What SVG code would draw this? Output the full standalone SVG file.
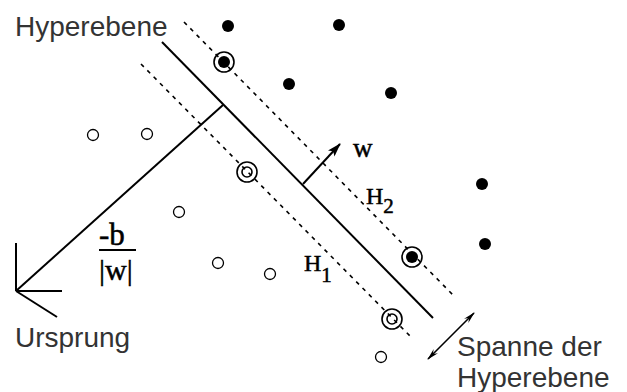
<svg xmlns="http://www.w3.org/2000/svg" width="627" height="392" viewBox="0 0 627 392">
<defs>
<style>
.lbl{font-family:"Liberation Sans",Arial,sans-serif;font-size:28px;fill:#333}
.math{font-family:"Liberation Serif","Times New Roman",serif;fill:#000;stroke:#000;stroke-width:0.5}
.solid{stroke:#000;stroke-width:2;fill:none}
.dash{stroke:#000;stroke-width:1.6;stroke-dasharray:4 5;fill:none}
.dot{fill:#000}
.open{fill:#fff;stroke:#000;stroke-width:1.3}
.ring{fill:none;stroke:#000;stroke-width:1.6}
</style>
<marker id="filled" viewBox="0 0 14 9" refX="13" refY="4.5" markerWidth="14" markerHeight="9" markerUnits="userSpaceOnUse" orient="auto">
<path d="M0,0 L14,4.5 L0,9 L3,4.5 Z" fill="#000"/>
</marker>
<marker id="thin" viewBox="0 0 12 8" refX="11" refY="4" markerWidth="12" markerHeight="8" markerUnits="userSpaceOnUse" orient="auto-start-reverse">
<path d="M0,1 L12,4 L0,7 L4,4 Z" fill="#000"/>
</marker>
</defs>
<rect width="627" height="392" fill="#fff"/>

<g id="connectors">
<line id="hyperplane" class="solid" x1="162" y1="42" x2="433" y2="318"/>
<line id="h2-line" class="dash" x1="184" y1="22" x2="454" y2="296"/>
<line id="h1-line" class="dash" x1="141" y1="64" x2="412" y2="338"/>
<line id="normal-to-origin" class="solid" x1="223" y1="105" x2="16" y2="291"/>
<line class="solid" x1="16" y1="291" x2="16" y2="243"/>
<line class="solid" x1="16" y1="291" x2="62" y2="291"/>
<line class="solid" x1="16" y1="291" x2="57" y2="317"/>
<line id="w-arrow" class="solid" x1="303" y1="184" x2="340" y2="144" marker-end="url(#filled)"/>
<line id="span-arrow" stroke="#000" stroke-width="1.6" x1="428" y1="359" x2="474" y2="313" marker-start="url(#thin)" marker-end="url(#thin)"/>
</g>

<g id="filled-points">
<circle class="dot" cx="228" cy="26" r="6"/>
<circle class="dot" cx="339" cy="25" r="6"/>
<circle class="dot" cx="289" cy="84" r="6"/>
<circle class="dot" cx="391" cy="93" r="6"/>
<circle class="dot" cx="482" cy="184" r="6"/>
<circle class="dot" cx="485" cy="244" r="6"/>
</g>
<g id="support-filled">
<circle class="dot" cx="224" cy="62" r="6"/><circle class="ring" cx="224" cy="62" r="10"/>
<circle class="dot" cx="412" cy="257" r="6"/><circle class="ring" cx="412" cy="257" r="10"/>
</g>
<g id="open-points">
<circle class="open" cx="93" cy="135" r="5.5"/>
<circle class="open" cx="147" cy="134" r="5.5"/>
<circle class="open" cx="179" cy="212" r="5.5"/>
<circle class="open" cx="218" cy="263" r="5.5"/>
<circle class="open" cx="270" cy="274" r="5.5"/>
<circle class="open" cx="381" cy="357" r="5.5"/>
</g>
<g id="support-open">
<circle class="ring" cx="247" cy="172" r="5"/><circle class="ring" cx="247" cy="172" r="10"/>
<circle class="ring" cx="392" cy="319" r="5"/><circle class="ring" cx="392" cy="319" r="10"/>
</g>

<g id="label-hyperebene"><text class="lbl" x="15" y="36">Hyperebene</text></g>
<g id="label-ursprung"><text class="lbl" x="15" y="347">Ursprung</text></g>
<g id="label-spanne">
<text class="lbl" x="457" y="356">Spanne der</text>
<text class="lbl" x="457" y="387">Hyperebene</text>
</g>
<g id="label-w"><text class="math" x="353" y="157" font-size="27">w</text></g>
<g id="label-h2"><text class="math" x="366" y="204" font-size="24">H<tspan font-size="21" dy="9">2</tspan></text></g>
<g id="label-h1"><text class="math" x="304" y="271" font-size="24">H<tspan font-size="21" dy="11">1</tspan></text></g>
<g id="label-bw">
<text class="math" x="99" y="245" font-size="31">-b</text>
<line stroke="#000" stroke-width="2" x1="99" y1="250" x2="136" y2="250"/>
<text class="math" x="99" y="280" font-size="30">|w|</text>
</g>
</svg>
